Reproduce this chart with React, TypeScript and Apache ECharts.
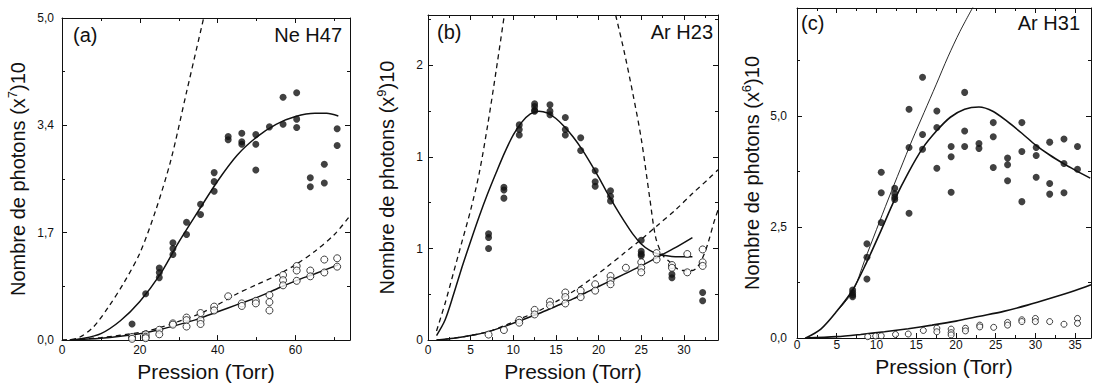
import { useEffect, useRef } from "react";
import * as echarts from "echarts";

type P = [number, number];

const FONT = "'Liberation Sans', Arial, Helvetica, sans-serif";
const INK = "#111";

// ---------- Panel (a) Ne H47 ----------
const neX = [18.0, 21.5, 25.0, 28.5, 32.0, 35.6, 39.1, 42.7, 46.2, 49.8, 53.3, 56.8, 60.3, 63.8, 67.4, 70.7];
const neFilledY = [
  [0.25], [0.72], [1.12, 1.05, 0.97], [1.51, 1.42, 1.33], [1.83, 1.64], [2.11, 1.95],
  [2.6, 2.46, 2.31], [3.16, 3.11], [3.21, 3.08, 3.04], [3.19, 3.04, 2.64], [3.31],
  [3.77, 3.35], [3.84, 3.43, 3.3], [2.52, 2.38], [2.73, 2.44], [3.28, 3.02],
];
const neOpenY = [
  [0.05, 0.02], [0.09, 0.05, 0.03], [0.16, 0.09], [0.26, 0.24], [0.35, 0.31, 0.21],
  [0.42, 0.31, 0.25], [0.52, 0.46], [0.68], [0.57, 0.53], [0.61, 0.57], [0.7, 0.59, 0.46],
  [1.01, 0.93, 0.85], [1.15, 1.08, 0.92], [1.08, 0.99], [1.25, 1.05], [1.27, 1.14],
];
const neFit: P[] = [[2, 0], [5, 0.02], [10, 0.1], [15, 0.3], [20, 0.6], [25, 1.0], [30, 1.52], [35, 2.0], [40, 2.47], [45, 2.87], [50, 3.15], [55, 3.35], [60, 3.47], [65, 3.52], [68, 3.52], [71, 3.48]];
const neFitDash: P[] = [[0, 0], [4, 0.03], [8, 0.2], [12, 0.52], [16, 0.9], [20, 1.35], [24, 2.0], [28, 2.8], [32, 3.85], [36.4, 5.0]];
const neLow: P[] = [[2, 0], [10, 0.03], [15, 0.06], [20, 0.1], [25, 0.16], [30, 0.24], [35, 0.33], [40, 0.44], [45, 0.55], [50, 0.66], [55, 0.79], [60, 0.92], [65, 1.03], [71, 1.17]];
const neLowDash: P[] = [[0, 0], [10, 0.04], [20, 0.12], [25, 0.19], [30, 0.29], [35, 0.4], [40, 0.55], [45, 0.72], [50, 0.86], [55, 1.0], [60, 1.17], [65, 1.38], [70, 1.64], [74, 1.93]];
const neYTicks = ["0,0", "1,7", "3,4", "5,0"];

// ---------- Panel (b) Ar H23 ----------
const arbX = [7.1, 8.9, 10.7, 12.5, 14.3, 16.1, 17.9, 19.6, 21.4, 23.2, 25.0, 26.8, 28.6, 30.4, 32.2];
const arbFilledY = [
  [1.16, 1.12, 1.0], [1.67, 1.64, 1.55], [2.35, 2.3, 2.24], [2.58, 2.55, 2.51, 2.5],
  [2.57, 2.5, 2.46], [2.43, 2.3, 2.24], [2.21, 2.07], [1.85, 1.73, 1.68], [1.63, 1.57, 1.52],
  [], [1.09, 0.97, 0.94, 0.92], [], [0.72, 0.68], [], [0.52, 0.43],
];
const arbOpenY = [
  [0.06], [0.11], [0.22, 0.19], [0.33, 0.28], [0.42, 0.38], [0.52, 0.47, 0.4], [0.54, 0.47],
  [0.61, 0.54], [0.7, 0.65, 0.61], [0.79], [0.85, 0.79, 0.74], [0.95, 0.88], [0.82, 0.79],
  [0.94, 0.74], [0.99, 0.85, 0.81],
];
const arbFit: P[] = [[1, 0.05], [2, 0.22], [3, 0.5], [4, 0.8], [5, 1.08], [6, 1.35], [7, 1.6], [8, 1.83], [9, 2.05], [10, 2.24], [11, 2.38], [12, 2.47], [13, 2.5], [14, 2.48], [15, 2.42], [16, 2.33], [17, 2.22], [18, 2.09], [19, 1.94], [20, 1.78], [21, 1.61], [22, 1.45], [23, 1.3], [24, 1.16], [25, 1.05], [26, 0.98], [27, 0.94], [28, 0.92], [29, 0.91], [30, 0.91], [31, 0.91]];
const arbDashLeft: P[] = [[1, 0.1], [2, 0.4], [3, 0.74], [4, 1.08], [5, 1.42], [6, 1.82], [7, 2.35], [8, 2.95], [8.95, 3.55]];
const arbDashRight: P[] = [[22, 3.55], [23, 3.15], [24, 2.7], [25, 2.2], [26, 1.55], [26.7, 1.12], [27.5, 0.93], [28.5, 0.84], [29.2, 0.78], [30, 0.76], [31, 0.76], [31.6, 0.8], [32.2, 0.9], [32.8, 1.05], [33.5, 1.28], [34, 1.42]];
const arbLow: P[] = [[1, 0], [3, 0.02], [5, 0.05], [7, 0.09], [9, 0.15], [11, 0.22], [13, 0.29], [15, 0.37], [17, 0.45], [19, 0.54], [21, 0.63], [23, 0.72], [25, 0.81], [27, 0.91], [29, 1.01], [31, 1.12]];
const arbLowDash: P[] = [[1, 0], [3, 0.02], [5, 0.05], [7, 0.09], [9, 0.16], [11, 0.24], [13, 0.32], [15, 0.42], [17, 0.53], [19, 0.66], [21, 0.8], [23, 0.95], [25, 1.1], [27, 1.26], [29, 1.42], [31, 1.6], [33, 1.77], [34, 1.86]];
const arbYTicks = ["0", "1", "1", "2"];

// ---------- Panel (c) Ar H31 ----------
const arcX = [7.0, 8.8, 10.6, 12.3, 14.1, 15.8, 17.6, 19.4, 21.1, 22.9, 24.7, 26.5, 28.3, 30.1, 31.8, 33.6, 35.3];
const arcFilledY = [
  [1.08, 1.02, 0.97, 0.93], [2.12, 1.82, 1.33], [3.73, 3.27, 2.6], [3.37, 3.25, 3.17, 3.12],
  [5.15, 4.29, 2.81], [5.87, 4.58, 4.25], [5.11, 4.74, 3.82], [4.31, 4.08, 3.28],
  [5.53, 4.66, 4.31], [4.38, 4.27], [4.85, 4.53, 3.84], [4.05, 3.9, 3.54], [4.85, 4.2, 3.07],
  [4.29, 4.11, 3.62], [4.41, 3.48, 3.24], [4.48, 3.93, 3.27], [4.31, 3.8],
];
const arcOpenX = [8.9, 9.9, 10.6, 12.4, 14.0, 15.9, 17.6, 19.4, 21.2, 23.0, 24.75, 26.5, 28.3, 30.0, 31.8, 33.6, 35.3];
const arcOpenY = [
  [0.03], [0.045], [0.05], [0.08], [0.09], [0.17], [0.22, 0.14], [0.2, 0.12, 0.07], [0.22, 0.16],
  [0.29, 0.25], [0.24], [0.35, 0.29], [0.41, 0.37], [0.44, 0.37], [0.37], [0.31], [0.44, 0.33],
];
const arcFit: P[] = [[1.1, 0], [3, 0.2], [5, 0.6], [7, 1.08], [8.7, 1.68], [10.6, 2.43], [12.3, 3.12], [14, 3.72], [15.8, 4.27], [17.6, 4.67], [19.3, 4.97], [21.1, 5.15], [22.9, 5.2], [24.7, 5.1], [26.5, 4.87], [28.3, 4.61], [30, 4.35], [31.8, 4.12], [33.6, 3.92], [35, 3.78], [36.9, 3.6]];
const arcThin: P[] = [[5, 0.6], [7, 1.04], [8.5, 1.74], [10, 2.44], [11.5, 3.13], [13, 3.8], [14.5, 4.46], [16, 5.08], [17.5, 5.7], [19, 6.33], [20.5, 6.9], [22.3, 7.5]];
const arcLow: P[] = [[1, 0], [5, 0.03], [8, 0.08], [11, 0.14], [14, 0.21], [17, 0.29], [20, 0.38], [23, 0.49], [26, 0.6], [29, 0.74], [32, 0.9], [35, 1.07], [37, 1.2]];

function pairs(xs: number[], ys: number[][]): P[] {
  const out: P[] = [];
  xs.forEach((x, i) => (ys[i] || []).forEach((y) => out.push([x, y])));
  return out;
}

const isMult = (v: number, step: number) => Math.abs(v / step - Math.round(v / step)) < 1e-6;

const axisLine = { show: true, onZero: false, lineStyle: { color: INK, width: 1 } };
const tick = { show: true, inside: true, length: 5, lineStyle: { color: INK, width: 1 } };
const minor = { show: true, splitNumber: 2, length: 3, lineStyle: { color: INK, width: 1 } };

function makeX(g: number, max: number, interval: number, margin: number, nameGap: number) {
  return [
    {
      type: "value", gridIndex: g, min: 0, max, interval, position: "bottom",
      name: "Pression (Torr)", nameLocation: "middle", nameGap,
      nameTextStyle: { fontFamily: FONT, fontSize: 21, color: INK },
      axisLine, axisTick: tick, minorTick: minor,
      axisLabel: {
        fontFamily: FONT, fontSize: 12, color: INK, margin,
        formatter: (v: number) => (isMult(v, interval) ? String(Math.round(v)) : ""),
      },
      splitLine: { show: false },
    },
    {
      type: "value", gridIndex: g, min: 0, max, interval, position: "top",
      axisLine, axisTick: tick, minorTick: minor, axisLabel: { show: false }, splitLine: { show: false },
    },
  ];
}

function makeY(g: number, max: number, interval: number, margin: number, nameGap: number, sup: string, fmt: (v: number) => string) {
  return [
    {
      type: "value", gridIndex: g, min: 0, max, interval, position: "left",
      name: "Nombre de photons (x{s|" + sup + "})10", nameLocation: "middle", nameGap,
      nameTextStyle: {
        fontFamily: FONT, fontSize: 20, color: INK,
        rich: { s: { fontFamily: FONT, fontSize: 13, color: INK, padding: [0, 0, 11, 0] } },
      },
      axisLine, axisTick: tick, minorTick: minor,
      axisLabel: { fontFamily: FONT, fontSize: 12, color: INK, margin, formatter: fmt },
      splitLine: { show: false },
    },
    {
      type: "value", gridIndex: g, min: 0, max, interval, position: "right",
      axisLine, axisTick: tick, minorTick: minor, axisLabel: { show: false }, splitLine: { show: false },
    },
  ];
}

function curve(axis: number, data: P[], dashed: boolean, width = 1.5) {
  return {
    type: "line", xAxisIndex: axis, yAxisIndex: axis, data, showSymbol: false, symbol: "none",
    smooth: 0.3, z: 2, silent: true, clip: true,
    lineStyle: { color: INK, width, type: dashed ? [5, 4] : "solid" },
  };
}

function dots(axis: number, data: P[], open: boolean, size = 7) {
  return {
    type: "scatter", xAxisIndex: axis, yAxisIndex: axis, data, symbol: "circle", symbolSize: size, z: 3,
    itemStyle: open ? { color: "#fff", borderColor: INK, borderWidth: 1 } : { color: INK },
  };
}

function label(text: string, pos: { left?: number; right?: number; top: number }) {
  return { type: "text", ...pos, style: { text, fill: INK, font: "20px " + FONT } };
}

export default function App() {
  const ref = useRef<HTMLDivElement>(null);
  useEffect(() => {
    if (!ref.current) return;
    const chart = echarts.init(ref.current, undefined, { renderer: "svg" });
    const option = {
      animation: false,
      backgroundColor: "#fff",
      grid: [
        { left: 62, top: 18, width: 288, height: 325 },
        { left: 428, top: 15, width: 290, height: 328 },
        { left: 797, top: 8, width: 295, height: 330 },
      ],
      xAxis: [
        ...makeX(0, 74, 20, 4, 18),
        ...makeX(1, 34, 5, 4, 18),
        ...makeX(2, 37, 5, 1, 9),
      ],
      yAxis: [
        ...makeY(0, 5, 5 / 3, 8, 32, "7", (v: number) => (isMult(v, 5 / 3) ? neYTicks[Math.round(v / (5 / 3))] : "")),
        ...makeY(1, 3.55, 1, 5, 29, "9", (v: number) => (isMult(v, 1) ? arbYTicks[Math.round(v)] || "" : "")),
        ...makeY(2, 7.43, 2.5, 10, 33, "6", (v: number) => (isMult(v, 2.5) ? v.toFixed(1).replace(".", ",") : "")),
      ],
      graphic: [
        label("(a)", { left: 73, top: 25 }),
        label("Ne H47", { right: 752, top: 25 }),
        label("(b)", { left: 437, top: 22 }),
        label("Ar H23", { right: 381, top: 22 }),
        label("(c)", { left: 801, top: 13 }),
        label("Ar H31", { right: 14, top: 13 }),
      ],
      series: [
        curve(0, neFitDash, true, 1.3),
        curve(0, neFit, false),
        curve(0, neLowDash, true, 1.3),
        curve(0, neLow, false),
        dots(0, pairs(neX, neFilledY), false),
        dots(0, pairs(neX, neOpenY), true),

        curve(2, arbDashLeft, true, 1.3),
        curve(2, arbDashRight, true, 1.3),
        curve(2, arbFit, false),
        curve(2, arbLowDash, true, 1.3),
        curve(2, arbLow, false),
        dots(2, pairs(arbX, arbFilledY), false),
        dots(2, pairs(arbX, arbOpenY), true),

        curve(4, arcThin, false, 0.9),
        curve(4, arcFit, false, 1.6),
        curve(4, arcLow, false, 1.6),
        dots(4, pairs(arcX, arcFilledY), false),
        dots(4, pairs(arcOpenX, arcOpenY), true, 6),
      ],
    };
    chart.setOption(option as any);
    return () => chart.dispose();
  }, []);
  return (
    <div
      ref={ref}
      style={{ position: "fixed", left: 0, top: 0, width: 1094, height: 387, background: "#fff" }}
    />
  );
}
